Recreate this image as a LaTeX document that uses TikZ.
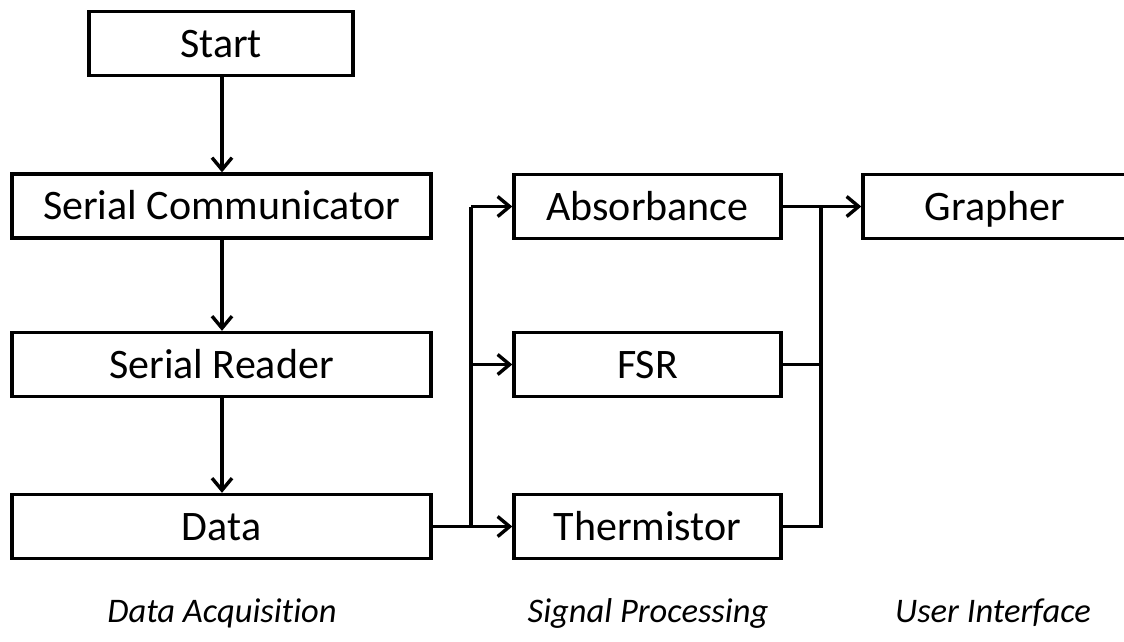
\documentclass[tikz,border=0pt]{standalone}
\usepackage{fontspec}
\setmainfont[Ligatures=NoCommon]{Carlito}
\usetikzlibrary{arrows.meta}
\begin{document}
\begin{tikzpicture}[x=1pt,y=-1pt,
  blk/.style={draw=black, line width=3.4pt, rectangle, inner sep=0pt,
    minimum height=64pt, text height=27pt, text depth=0pt,
    font=\fontsize{42}{48}\selectfont},
  wide/.style={blk, minimum width=419pt},
  mid/.style={blk, minimum width=267pt},
  lbl/.style={font=\fontsize{34.5}{40}\selectfont\itshape, anchor=base, inner sep=0pt},
  conn/.style={line width=3.4pt},
  arr/.style={conn, -{Straight Barb[length=12pt,width=20pt,line width=3.4pt]}}]
\useasboundingbox (0,0) rectangle (1124,641);
\clip (0,0) rectangle (1124,641);
\node[blk, minimum width=264pt] (start) at (221,43.5) {Start};
\node[wide] (sc) at (221.5,206) {Serial Communicator};
\node[wide] (sr) at (221.5,364.5) {Serial Reader};
\node[wide] (data) at (221.5,526.5) {Data};
\node[mid] (abs) at (647.5,206.5) {Absorbance};
\node[mid] (fsr) at (647.5,364.5) {FSR};
\node[mid] (therm) at (647.5,526.5) {Thermistor};
\node[blk, minimum width=264pt] (graph) at (995,206.5) {Grapher};
\node[lbl] (l1) at (222,622) {Data Acquisition};
\node[lbl] (l2) at (648,622) {Signal Processing};
\node[lbl] (l3) at (993,622) {User Interface};
\coordinate (jl) at (471,526.5);
\coordinate (jr) at (821,526.5);
\draw[arr] (start.south -| 222,0) -- (sc.north -| 222,0);
\draw[arr] (sc.south -| 222,0) -- (sr.north -| 222,0);
\draw[arr] (sr.south -| 222,0) -- (data.north -| 222,0);
\draw[arr] (data.east) -- (therm.west);
\draw[conn] (jl) -- (jl |- abs.west);
\draw[arr] (jl |- abs.west) -- (abs.west);
\draw[arr] (jl |- fsr.west) -- (fsr.west);
\draw[arr] (abs.east) -- (graph.west);
\draw[conn] (fsr.east) -- (jr |- fsr.east);
\draw[conn] (therm.east) -- (jr) -- (jr |- abs.east);
\end{tikzpicture}
\end{document}
